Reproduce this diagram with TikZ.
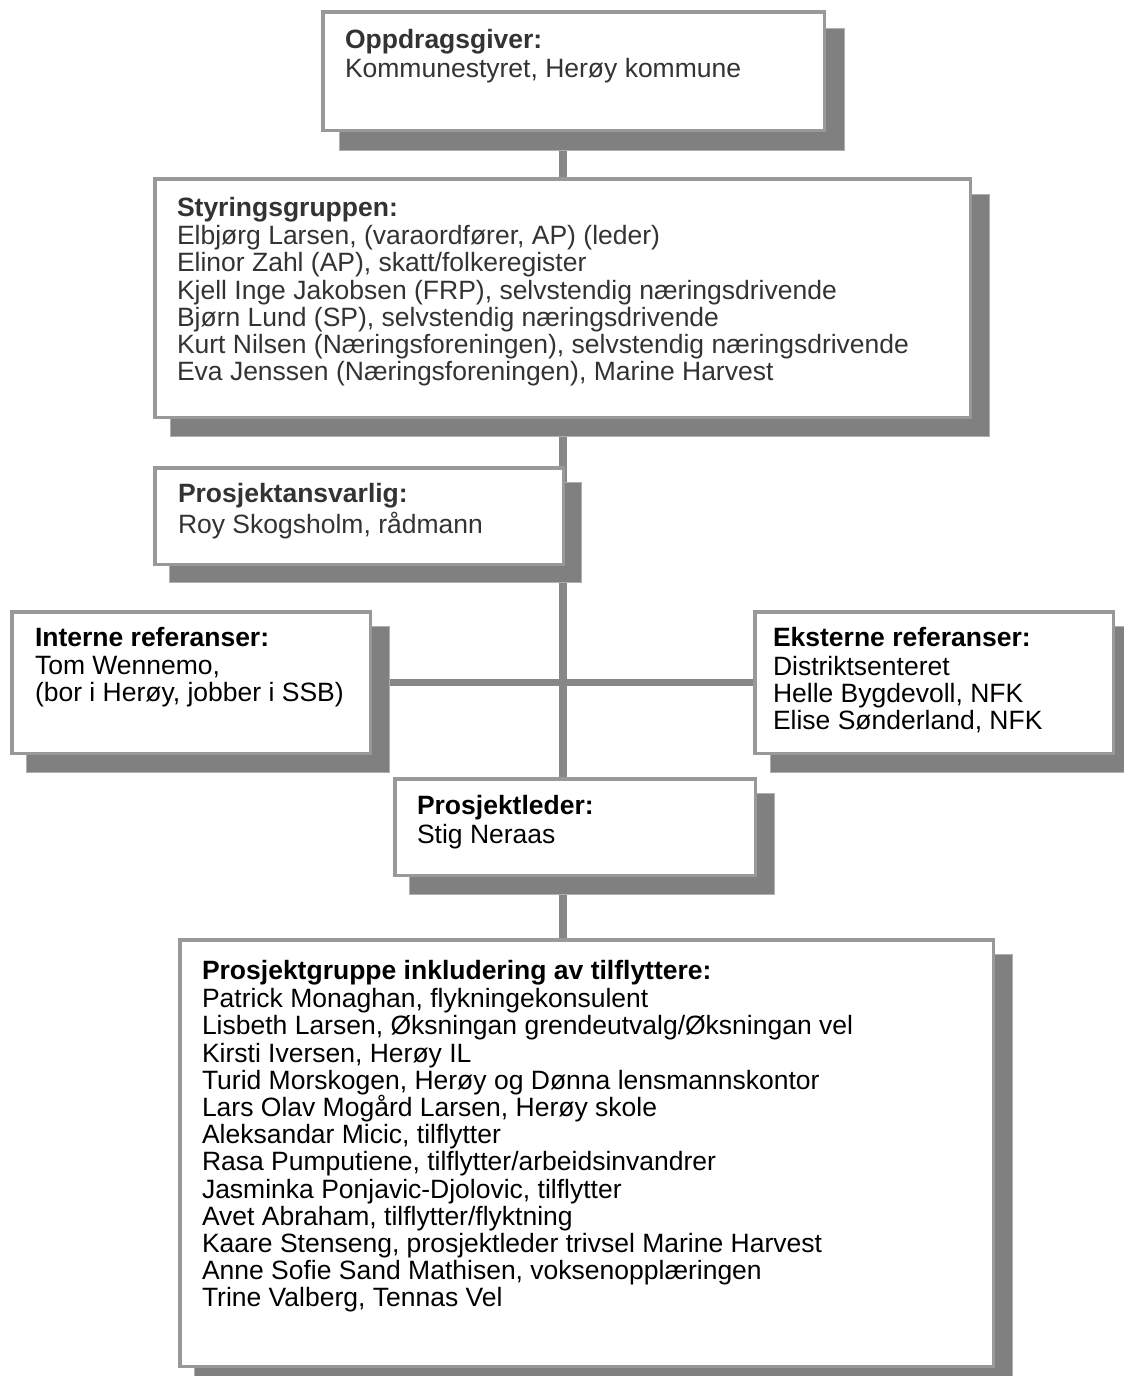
\documentclass[tikz,border=0pt]{standalone}
\usepackage{fontspec}
\setmainfont{Liberation Sans}
\usetikzlibrary{backgrounds}
\definecolor{bordc}{HTML}{999999}
\definecolor{shadc}{HTML}{808080}
\definecolor{shadedge}{HTML}{B0B0B0}
\definecolor{linkc}{HTML}{878787}
\definecolor{dtext}{HTML}{333333}
\tikzset{
  orgbox/.style={draw=bordc, line width=3.5pt, fill=white, inner sep=0pt, outer sep=0pt, anchor=north west},
  orgtext/.style={anchor=north west, inner sep=0pt, outer sep=0pt, align=left, font=\fontsize{26.5}{27.2}\selectfont},
  widetext/.style={orgtext, font=\fontsize{26.5}{29}\selectfont},
  shadowbox/.style={fill=shadc, draw=shadedge, line width=1pt},
  link/.style={draw=linkc, line width=8pt},
  hlink/.style={draw=linkc, line width=7pt},
}
\begin{document}
\begin{tikzpicture}[x=1pt,y=-1pt]
\clip (0,0) rectangle (1124,1376);
\useasboundingbox (0,0) rectangle (1124,1376);
\coordinate (spine) at (563,0);
\coordinate (hline) at (0,682);

% B1 Oppdragsgiver
\fill[shadowbox] (339,28) rectangle (844,150);
\node[orgbox, minimum width=501.5pt, minimum height=118.5pt] (b1) at (322.75,11.75) {};
\node[widetext, text=dtext] (t1) at (345,27.7) {\strut\textbf{Oppdragsgiver:}\\Kommunestyret, Herøy kommune};

% B2 Styringsgruppen
\fill[shadowbox] (170,194) rectangle (989,436);
\node[orgbox, minimum width=815.5pt, minimum height=238.5pt] (b2) at (154.75,178.75) {};
\node[orgtext, text=dtext] (t2) at (177,197.2) {\strut\textbf{Styringsgruppen:}\\
Elbjørg Larsen, (varaordfører, AP) (leder)\\
Elinor Zahl (AP), skatt/folkeregister\\
Kjell Inge Jakobsen (FRP), selvstendig næringsdrivende\\
Bjørn Lund (SP), selvstendig næringsdrivende\\
Kurt Nilsen (Næringsforeningen), selvstendig næringsdrivende\\
Eva Jenssen (Næringsforeningen), Marine Harvest};

% B3 Prosjektansvarlig
\fill[shadowbox] (169,482) rectangle (581,582);
\node[orgbox, minimum width=408.5pt, minimum height=96.5pt] (b3) at (154.75,467.75) {};
\node[widetext, text=dtext] (t3) at (178,482.2) {\strut\textbf{Prosjektansvarlig:}\\Roy Skogsholm, rådmann};

% B4 Interne referanser
\fill[shadowbox] (26,626) rectangle (389,772);
\node[orgbox, minimum width=358.5pt, minimum height=141.5pt] (b4) at (11.75,611.75) {};
\node[orgtext] (t4) at (35,627.7) {\strut\textbf{Interne referanser:}\\Tom Wennemo,\\(bor i Herøy, jobber i SSB)};

% B5 Eksterne referanser
\fill[shadowbox] (770,626) rectangle (1132,772);
\node[orgbox, minimum width=358.5pt, minimum height=141.5pt] (b5) at (754.75,611.75) {};
\node[orgtext] (t5) at (773,627.7) {\strut\textbf{Eksterne referanser:}\\Distriktsenteret\\Helle Bygdevoll, NFK\\Elise Sønderland, NFK};

% B6 Prosjektleder
\fill[shadowbox] (409,793) rectangle (774,894);
\node[orgbox, minimum width=360.5pt, minimum height=96.5pt] (b6) at (394.75,778.75) {};
\node[widetext] (t6) at (417,794.2) {\strut\textbf{Prosjektleder:}\\Stig Neraas};

% B7 Prosjektgruppe
\fill[shadowbox] (194,954) rectangle (1012,1385);
\node[orgbox, minimum width=813.5pt, minimum height=426.5pt] (b7) at (179.75,939.75) {};
\node[orgtext] (t7) at (202,960.2) {\strut\textbf{Prosjektgruppe inkludering av tilflyttere:}\\
Patrick Monaghan, flykningekonsulent\\
Lisbeth Larsen, Øksningan grendeutvalg/Øksningan vel\\
Kirsti Iversen, Herøy IL\\
Turid Morskogen, Herøy og Dønna lensmannskontor\\
Lars Olav Mogård Larsen, Herøy skole\\
Aleksandar Micic, tilflytter\\
Rasa Pumputiene, tilflytter/arbeidsinvandrer\\
Jasminka Ponjavic-Djolovic, tilflytter\\
Avet Abraham, tilflytter/flyktning\\
Kaare Stenseng, prosjektleder trivsel Marine Harvest\\
Anne Sofie Sand Mathisen, voksenopplæringen\\
Trine Valberg, Tennas Vel};

\begin{pgfonlayer}{background}
\draw[link] (b1.south -| spine) -- (b2.north -| spine);
\draw[link] (b2.south -| spine) -- (b6.north -| spine);
\draw[link] (b6.south -| spine) -- (b7.north -| spine);
\draw[hlink] (b4.east |- hline) -- (b5.west |- hline);
\end{pgfonlayer}
\end{tikzpicture}
\end{document}
